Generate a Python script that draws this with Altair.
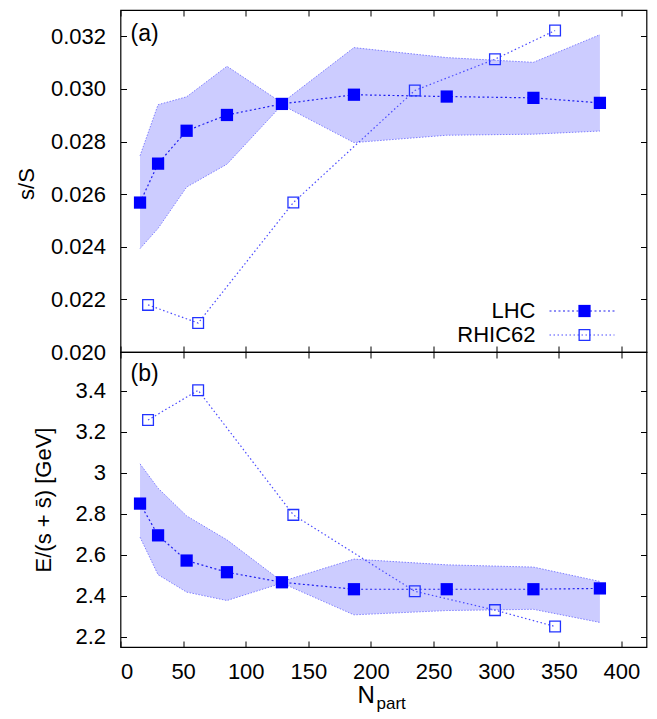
import altair as alt
import pandas as pd

# ---------------- data ----------------
lhc_npart = [15.6, 30.0, 52.8, 85.0, 128.9, 186.4, 260.5, 329.7, 382.8]
lhc_sS = [0.02568, 0.02716, 0.02841, 0.02901, 0.02943, 0.02978, 0.02971, 0.02966, 0.02947]
lhc_sS_hi = [0.02746, 0.02940, 0.02970, 0.03086, 0.02947, 0.03157, 0.03119, 0.03101, 0.03206]
lhc_sS_lo = [0.02393, 0.02470, 0.02627, 0.02714, 0.02939, 0.02796, 0.02824, 0.02828, 0.02840]

lhc_E = [2.850, 2.695, 2.572, 2.515, 2.466, 2.432, 2.432, 2.432, 2.436]
lhc_E_hi = [3.044, 2.925, 2.790, 2.673, 2.470, 2.579, 2.551, 2.540, 2.470]
lhc_E_lo = [2.686, 2.503, 2.418, 2.377, 2.462, 2.307, 2.328, 2.334, 2.270]

rhic_npart = [22, 62, 138, 235, 299, 347]
rhic_sS = [0.02179, 0.02110, 0.02568, 0.02994, 0.03113, 0.03222]
rhic_E = [3.258, 3.403, 2.795, 2.422, 2.330, 2.250]

x_ticks = [0, 50, 100, 150, 200, 250, 300, 350, 400]
yA_ticks = [0.020, 0.022, 0.024, 0.026, 0.028, 0.030, 0.032]
yB_ticks = [2.2, 2.4, 2.6, 2.8, 3.0, 3.2, 3.4]

series_names = ["LHC", "RHIC62"]
panel_labels = ["(a)", "(b)"]
y_titles = ["s/S", "E/(s + s\u0304) [GeV]"]

# ---------------- tables ----------------
lhc = pd.DataFrame({"N": lhc_npart, "sS": lhc_sS, "sS_hi": lhc_sS_hi, "sS_lo": lhc_sS_lo,
                    "E": lhc_E, "E_hi": lhc_E_hi, "E_lo": lhc_E_lo})
rhic = pd.DataFrame({"N": rhic_npart, "sS": rhic_sS, "E": rhic_E})
one = pd.DataFrame({"k": [0]})

FONT = "Liberation Sans"
W = 526
HA = 342
HB = 295

BLUE = "#0000ff"
LHC_LINE = "#2020f0"
RHIC_COL = "#4a4aff"
EDGE = "#8080ff"
FILL = "#ccccff"

x_scale = alt.Scale(domain=[0, 420], nice=False, zero=False)

common = dict(tickSize=6, offset=-6, domain=False, tickColor="black", tickWidth=1,
              grid=False, labelFont=FONT, labelFontSize=22, labelColor="black", title=None)


def panel(ycol, yscale, yticks, yfmt, H, label, ytitle, ytitle_x, ytitle_y, with_legend, with_xlabels):
    x_main = alt.Axis(orient="bottom", values=x_ticks, labels=with_xlabels, format="d",
                      labelPadding=14, **common)
    x_mirror = alt.Axis(orient="top", values=x_ticks, labels=False, **common)
    y_main = alt.Axis(orient="left", values=yticks, format=yfmt, labelPadding=15, **common)
    y_mirror = alt.Axis(orient="right", values=yticks, labels=False, **common)

    base = alt.Chart(lhc)
    band = base.mark_area(color=FILL, opacity=1).encode(
        x=alt.X("N:Q", scale=x_scale, axis=x_main),
        y=alt.Y(f"{ycol}_lo:Q", scale=yscale, axis=y_main),
        y2=f"{ycol}_hi:Q",
    )
    edge_hi = base.mark_line(color=EDGE, strokeDash=[1.5, 1.5], strokeWidth=1).encode(
        x=alt.X("N:Q", scale=x_scale, axis=x_mirror),
        y=alt.Y(f"{ycol}_hi:Q", scale=yscale, axis=y_mirror),
    )
    edge_lo = base.mark_line(color=EDGE, strokeDash=[1.5, 1.5], strokeWidth=1).encode(
        x=alt.X("N:Q", scale=x_scale, axis=None),
        y=alt.Y(f"{ycol}_lo:Q", scale=yscale, axis=None),
    )
    rline = alt.Chart(rhic).mark_line(color=RHIC_COL, strokeDash=[1.5, 2.5], strokeWidth=1.2).encode(
        x=alt.X("N:Q", scale=x_scale, axis=None),
        y=alt.Y(f"{ycol}:Q", scale=yscale, axis=None),
    )
    lline = base.mark_line(color=LHC_LINE, strokeDash=[2, 2.5], strokeWidth=1.2).encode(
        x=alt.X("N:Q", scale=x_scale, axis=None),
        y=alt.Y(f"{ycol}:Q", scale=yscale, axis=None),
    )
    rpts = alt.Chart(rhic).mark_point(shape="square", filled=False, size=115, color="#2233ff",
                                      strokeWidth=1.3, opacity=1).encode(
        x=alt.X("N:Q", scale=x_scale, axis=None),
        y=alt.Y(f"{ycol}:Q", scale=yscale, axis=None),
    )
    lpts = base.mark_point(shape="square", filled=True, size=150, color=BLUE, opacity=1).encode(
        x=alt.X("N:Q", scale=x_scale, axis=None),
        y=alt.Y(f"{ycol}:Q", scale=yscale, axis=None),
    )
    lab = alt.Chart(one).mark_text(text=label, font=FONT, fontSize=23, align="left",
                                   baseline="middle", color="black").encode(
        x=alt.value(10), y=alt.value(24 if label == "(a)" else 22))
    yt = alt.Chart(one).mark_text(text=ytitle, font=FONT, fontSize=22, align="center",
                                  baseline="middle", angle=270, color="black").encode(
        x=alt.value(ytitle_x), y=alt.value(ytitle_y))
    layers = [band, edge_hi, edge_lo, rline, lline, rpts, lpts, lab, yt]

    if with_legend:
        rows = [(series_names[0], 301), (series_names[1], 325)]
        for name, yy in rows:
            layers.append(alt.Chart(one).mark_text(text=name, font=FONT, fontSize=22, align="right",
                                                   baseline="middle", color="black").encode(
                x=alt.value(415), y=alt.value(yy)))
        layers.append(alt.Chart(one).mark_rule(color=LHC_LINE, strokeDash=[2, 2.5], strokeWidth=1.2).encode(
            x=alt.value(429), x2=alt.value(494), y=alt.value(301)))
        layers.append(alt.Chart(one).mark_rule(color=RHIC_COL, strokeDash=[1.5, 2.5], strokeWidth=1.2).encode(
            x=alt.value(429), x2=alt.value(494), y=alt.value(325)))
        layers.append(alt.Chart(one).mark_point(shape="square", filled=True, size=150, color=BLUE,
                                                opacity=1).encode(x=alt.value(464), y=alt.value(301)))
        layers.append(alt.Chart(one).mark_point(shape="square", filled=False, size=115, color="#2233ff",
                                                strokeWidth=1.3, opacity=1).encode(
            x=alt.value(464), y=alt.value(325)))

    if with_xlabels:
        layers.append(alt.Chart(one).mark_text(text="N", font=FONT, fontSize=24, align="left",
                                               baseline="alphabetic", color="black").encode(
            x=alt.value(237), y=alt.value(351)))
        layers.append(alt.Chart(one).mark_text(text="part", font=FONT, fontSize=17, align="left",
                                               baseline="alphabetic", color="black").encode(
            x=alt.value(256), y=alt.value(356.5)))

    return alt.layer(*layers).resolve_axis(x="independent", y="independent").properties(
        width=W, height=H)


top = panel("sS", alt.Scale(domain=[0.020, 0.033], nice=False, zero=False), yA_ticks, ".3f", HA,
            panel_labels[0], y_titles[0], -93.5, 174, True, False)
bottom = panel("E", alt.Scale(domain=[2.15, 3.59], nice=False, zero=False), yB_ticks, "~g", HB,
               panel_labels[1], y_titles[1], -77, 148, False, True)

chart = alt.vconcat(top, bottom, spacing=0, bounds="flush").properties(
    padding={"left": 6.5, "top": 0, "right": 0, "bottom": 0},
    background="white",
).configure_view(stroke="black", strokeWidth=1.2)

chart.save("out.html", embed_options={"renderer": "svg", "actions": False})
